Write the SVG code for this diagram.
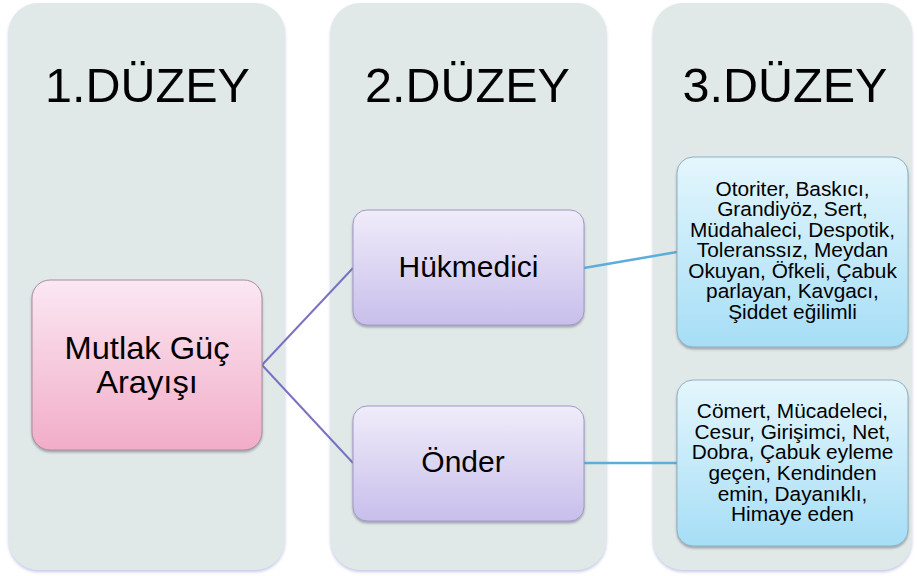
<svg xmlns="http://www.w3.org/2000/svg" width="917" height="576" viewBox="0 0 917 576">
  <defs>
    <linearGradient id="gPink" x1="0" y1="0" x2="0" y2="1">
      <stop offset="0" stop-color="#fbe7f3"/>
      <stop offset="1" stop-color="#f2adc8"/>
    </linearGradient>
    <linearGradient id="gPurple" x1="0" y1="0" x2="0" y2="1">
      <stop offset="0" stop-color="#f0ecfa"/>
      <stop offset="1" stop-color="#c8bfeb"/>
    </linearGradient>
    <linearGradient id="gBlue" x1="0" y1="0" x2="0" y2="1">
      <stop offset="0" stop-color="#e4f6fd"/>
      <stop offset="1" stop-color="#a6def6"/>
    </linearGradient>
    <filter id="colShadow" x="-5%" y="-5%" width="110%" height="110%">
      <feDropShadow dx="0" dy="2" stdDeviation="1.5" flood-color="#aeb2e0" flood-opacity="0.7"/>
    </filter>
    <filter id="nodeShadow" x="-5%" y="-5%" width="110%" height="115%">
      <feDropShadow dx="0" dy="2" stdDeviation="1.2" flood-color="#555566" flood-opacity="0.45"/>
    </filter>
  </defs>
  <style>
    .col { fill: #e1e9e8; filter: url(#colShadow); }
    .head { font-family: "Liberation Sans", Arial, sans-serif; font-size: 48.5px; fill: #000; text-anchor: middle; }
    .lbl { font-family: "Liberation Sans", Arial, sans-serif; fill: #000; text-anchor: middle; }
    .big { font-size: 30.5px; }
    .mid { font-size: 30px; }
    .small { font-size: 19.5px; }
    .pink { fill: url(#gPink); stroke: #a48ea0; stroke-width: 1; filter: url(#nodeShadow); }
    .purple { fill: url(#gPurple); stroke: #9f98c6; stroke-width: 1; filter: url(#nodeShadow); }
    .blue { fill: url(#gBlue); stroke: #8fb0c0; stroke-width: 1; filter: url(#nodeShadow); }
    .edgeP { stroke: #7b71c2; stroke-width: 2; fill: none; }
    .edgeB { stroke: #5aaedc; stroke-width: 2.5; fill: none; }
  </style>

  <rect width="917" height="576" fill="#ffffff"/>

  <!-- level columns -->
  <g id="level1">
    <rect class="col" x="8.5" y="3" width="276.5" height="567" rx="30"/>
    <text class="head" x="147.5" y="102">1.DÜZEY</text>
  </g>
  <g id="level2">
    <rect class="col" x="330.5" y="3" width="276" height="567" rx="30"/>
    <text class="head" x="467.5" y="102">2.DÜZEY</text>
  </g>
  <g id="level3">
    <rect class="col" x="653" y="3" width="259" height="567" rx="30"/>
    <text class="head" x="785" y="102">3.DÜZEY</text>
  </g>

  <!-- connectors -->
  <g id="connectors">
    <path class="edgeP" d="M262 365 L353 268"/>
    <path class="edgeP" d="M262 365 L353 463"/>
    <path class="edgeB" d="M584 268 L677 252"/>
    <path class="edgeB" d="M584 463 L677 463"/>
  </g>

  <!-- nodes -->
  <g id="node-mutlak">
    <rect class="pink" x="32" y="280" width="230" height="170" rx="18"/>
    <!-- labels widened slightly about their centre line x=147 -->
    <g transform="matrix(1.07 0 0 1 -10.29 0)">
      <text class="lbl big" x="147" y="359">Mutlak Güç</text>
      <text class="lbl big" x="147" y="393">Arayışı</text>
    </g>
  </g>
  <g id="node-hukmedici">
    <rect class="purple" x="353" y="210" width="231" height="115" rx="14"/>
    <text class="lbl mid" x="468.5" y="277">Hükmedici</text>
  </g>
  <g id="node-onder">
    <rect class="purple" x="353" y="406" width="231" height="115" rx="14"/>
    <text class="lbl mid" x="463" y="472">Önder</text>
  </g>
  <g id="node-hukmedici-traits">
    <rect class="blue" x="677" y="157" width="231" height="190" rx="16"/>
    <!-- labels widened slightly about their centre line x=792.5 -->
    <g transform="matrix(1.07 0 0 1 -55.475 0)">
      <text class="lbl small" x="792.5" y="196">Otoriter, Baskıcı,</text>
      <text class="lbl small" x="792.5" y="216.5">Grandiyöz, Sert,</text>
      <text class="lbl small" x="792.5" y="237">Müdahaleci, Despotik,</text>
      <text class="lbl small" x="792.5" y="257.5">Toleranssız, Meydan</text>
      <text class="lbl small" x="792.5" y="278">Okuyan, Öfkeli, Çabuk</text>
      <text class="lbl small" x="792.5" y="298.5">parlayan, Kavgacı,</text>
      <text class="lbl small" x="792.5" y="319">Şiddet eğilimli</text>
    </g>
  </g>
  <g id="node-onder-traits">
    <rect class="blue" x="677" y="380" width="231" height="166" rx="16"/>
    <g transform="matrix(1.07 0 0 1 -55.475 0)">
      <text class="lbl small" x="792.5" y="418">Cömert, Mücadeleci,</text>
      <text class="lbl small" x="792.5" y="438.7">Cesur, Girişimci, Net,</text>
      <text class="lbl small" x="792.5" y="459.4">Dobra, Çabuk eyleme</text>
      <text class="lbl small" x="792.5" y="480.1">geçen, Kendinden</text>
      <text class="lbl small" x="792.5" y="500.8">emin, Dayanıklı,</text>
      <text class="lbl small" x="792.5" y="521.5">Himaye eden</text>
    </g>
  </g>
</svg>
